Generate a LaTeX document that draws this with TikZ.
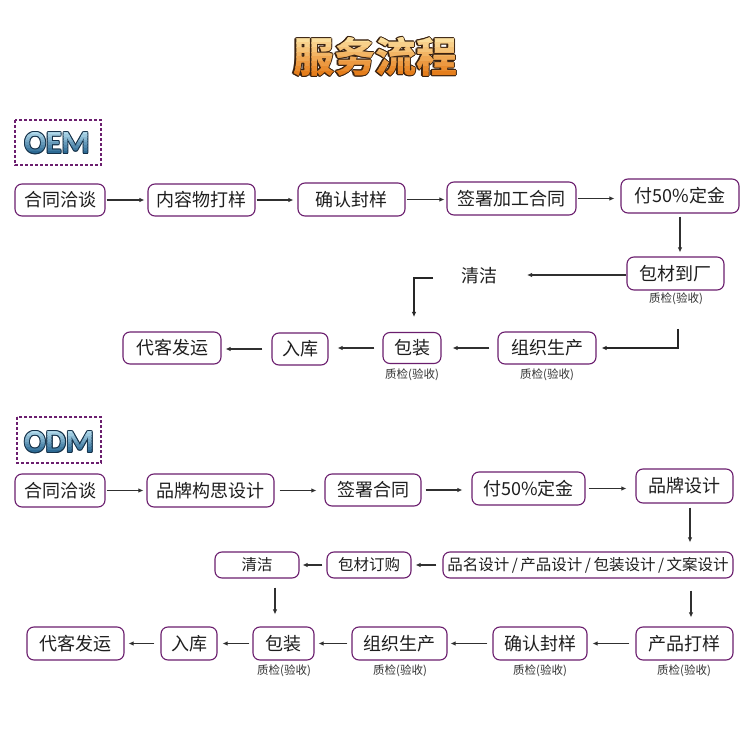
\documentclass[tikz,border=0pt]{standalone}
\usepackage{fontspec}
\setmainfont{Noto Sans CJK SC}
\newfontfamily\latinb{Carlito}
\usetikzlibrary{arrows.meta}
\definecolor{boxc}{HTML}{6B1E6E}
\definecolor{arrc}{HTML}{303030}
\definecolor{txt}{HTML}{1E1E1E}
\definecolor{txt2}{HTML}{333333}
\definecolor{ttop}{HTML}{FFEDB0}
\definecolor{tbot}{HTML}{E2700A}
\definecolor{tout}{HTML}{3A2210}
\definecolor{btop}{HTML}{C4EAF8}
\definecolor{bbot}{HTML}{1A5A88}
\definecolor{bout}{HTML}{15324A}
% #1 x, #2 y, #3 font, #4 text, #5 outline, #6 top, #7 bottom, #8 half height, #9 outline offset
\newcommand\gradlabel[9]{%
  \foreach \dx/\dy in {1/0,-1/0,0/1,0/-1,0.7/0.7,-0.7/0.7,0.7/-0.7,-0.7/-0.7}{%
    \node[inner sep=0pt, font=#3, text=#5, xshift=\dx*#9 pt, yshift=\dy*#9 pt] at (#1,#2) {#4};}
  \foreach \i in {0,...,9}{%
    \pgfmathtruncatemacro\pp{100-100*\i/9}%
    \begin{scope}
      \clip (#1-200, #2-#8+\i*#8/5) rectangle (#1+200, #2-#8+\i*#8/5+#8/5+0.5);
      \node[inner sep=0pt, font=#3, text=#6!\pp!#7] at (#1,#2) {#4};
    \end{scope}}
}
\begin{document}
\begin{tikzpicture}[x=1pt,y=-1pt,
  bx/.style={draw=boxc, line width=1.1pt, rounded corners=7pt, inner sep=0pt, fill=white,
    font=\fontsize{18}{20}\selectfont, text=txt},
  sbx/.style={bx, font=\fontsize{15.5}{18}\selectfont},
  qc/.style={font=\fontsize{11.5}{13}\selectfont, text=txt2, inner sep=0pt},
  arr/.style={draw=arrc, line width=1.1pt, -{Latex[length=5pt,width=4.5pt]}},
  thk/.style={draw=black!85, line width=2pt, -{Latex[length=5pt,width=4.5pt]}},
  dsh/.style={draw=boxc, line width=1.1pt, dash pattern=on 3pt off 2pt},
]
\fill[white] (0,0) rectangle (750,735);
\useasboundingbox (0,0) rectangle (750,735);

% title
\gradlabel{375}{57}{\fontsize{41}{44}\selectfont\bfseries}{服务流程}{tout}{ttop}{tbot}{24}{1.4}

% ===== OEM =====
\draw[dsh] (15,120) rectangle (101,165);
\gradlabel{57}{143}{\latinb\fontsize{32}{34}\selectfont\bfseries}{OEM}{bout}{btop}{bbot}{14}{1.1}

\node[bx, minimum width=90pt, minimum height=32pt] (a1) at (60,200) {合同洽谈};
\node[bx, minimum width=107pt, minimum height=32pt] (a2) at (201.5,200) {内容物打样};
\node[bx, minimum width=107pt, minimum height=33pt] (a3) at (351.5,199.5) {确认封样};
\node[bx, minimum width=129pt, minimum height=33pt] (a4) at (511.5,198.5) {签署加工合同};
\node[bx, minimum width=118pt, minimum height=34pt] (a5) at (680,196) {付50\%定金};
\node[bx, minimum width=97pt, minimum height=33pt] (a6) at (675.5,273.5) {包材到厂};
\node[inner sep=0pt, font=\fontsize{18}{20}\selectfont, text=txt] (q1) at (479,276) {清洁};
\node[bx, minimum width=98pt, minimum height=32pt] (a7) at (547,348) {组织生产};
\node[bx, minimum width=58pt, minimum height=31pt] (a8) at (412,348) {包装};
\node[bx, minimum width=56pt, minimum height=32pt] (a9) at (300,349) {入库};
\node[bx, minimum width=98pt, minimum height=32pt] (a10) at (172,348) {代客发运};

\node[qc] (qa6) at (676,299) {质检(验收)};
\node[qc] (qa7) at (547,375) {质检(验收)};
\node[qc] (qa8) at (412,375) {质检(验收)};

\draw[arr, shorten <=1pt, shorten >=3pt] (a1.east) -- (a1.east -| a2.west);
\draw[arr, shorten <=1pt, shorten >=4pt] (a2.east) -- (a2.east -| a3.west);
\draw[arr, shorten <=1pt, shorten >=2pt] (a3.east) -- (a3.east -| a4.west);
\draw[arr, shorten <=1pt, shorten >=6pt] (a4.east) -- (a4.east -| a5.west);
\draw[arr, shorten <=3pt, shorten >=4pt] (a5.south) -- (a5.south |- a6.north);
\coordinate (q1e) at (527,275);
\draw[arr] (a6.west |- q1e) -- (q1e);
\coordinate (k1) at (433,278);
\coordinate (k2) at (414,317);
\draw[thk] (k1) -| (k2);
\coordinate (m1) at (678,329);
\draw[thk, shorten >=5pt] (m1) |- (a7.east);
\draw[arr, shorten <=8pt, shorten >=11pt] (a7.west) -- (a7.west -| a8.east);
\draw[arr, shorten <=8pt, shorten >=9pt] (a8.west) -- (a8.west -| a9.east);
\draw[arr, shorten <=9pt, shorten >=4pt] (a9.west) -- (a9.west -| a10.east);

% ===== ODM =====
\draw[dsh] (17,417) rectangle (101,463);
\gradlabel{59}{442}{\latinb\fontsize{32}{34}\selectfont\bfseries}{ODM}{bout}{btop}{bbot}{14}{1.1}

\node[bx, minimum width=90pt, minimum height=33pt] (b1) at (60,490.5) {合同洽谈};
\node[bx, minimum width=127pt, minimum height=33pt] (b2) at (210.5,490.5) {品牌构思设计};
\node[bx, minimum width=96pt, minimum height=32pt] (b3) at (373,490) {签署合同};
\node[bx, minimum width=113pt, minimum height=33pt] (b4) at (528.5,488.5) {付50\%定金};
\node[bx, minimum width=97pt, minimum height=34pt] (b5) at (684.5,486) {品牌设计};
\node[sbx, minimum width=290pt, minimum height=26pt] (b6) at (588,565)
  {品名设计\hspace{2.5pt}/\hspace{2.5pt}产品设计\hspace{2.5pt}/\hspace{2.5pt}包装设计\hspace{2.5pt}/\hspace{2.5pt}文案设计};
\node[sbx, minimum width=84pt, minimum height=26pt] (b7) at (369,565) {包材订购};
\node[sbx, minimum width=84pt, minimum height=26pt] (b8) at (257,565) {清洁};
\node[bx, minimum width=97pt, minimum height=33pt] (b9) at (684.5,643.5) {产品打样};
\node[bx, minimum width=94pt, minimum height=33pt] (b10) at (540,643.5) {确认封样};
\node[bx, minimum width=95pt, minimum height=33pt] (b11) at (399.5,643.5) {组织生产};
\node[bx, minimum width=61pt, minimum height=33pt] (b12) at (283.5,643.5) {包装};
\node[bx, minimum width=56pt, minimum height=33pt] (b13) at (189,643.5) {入库};
\node[bx, minimum width=97pt, minimum height=33pt] (b14) at (75.5,643.5) {代客发运};

\node[qc] (qb9) at (684,671) {质检(验收)};
\node[qc] (qb10) at (540,671) {质检(验收)};
\node[qc] (qb11) at (400,671) {质检(验收)};
\node[qc] (qb12) at (284,671) {质检(验收)};

\draw[arr, shorten <=1pt, shorten >=3pt] (b1.east) -- (b1.east -| b2.west);
\draw[arr, shorten <=5pt, shorten >=8pt] (b2.east) -- (b2.east -| b3.west);
\draw[arr, shorten <=4pt, shorten >=9pt] (b3.east) -- (b3.east -| b4.west);
\draw[arr, shorten <=3pt, shorten >=9pt] (b4.east) -- (b4.east -| b5.west);
\draw[arr, shorten <=4pt, shorten >=9pt] ([xshift=5.5pt]b5.south) -- ([xshift=5.5pt]b5.south |- b6.north);
\draw[arr, shorten <=6pt, shorten >=4pt] (b6.west) -- (b6.west -| b7.east);
\draw[arr, shorten <=4pt, shorten >=3pt] (b7.west) -- (b7.west -| b8.east);
\draw[arr, shorten <=12pt, shorten >=9pt] ([xshift=6.5pt]b9.north |- b6.south) -- ([xshift=6.5pt]b9.north);
\draw[arr, shorten <=9pt, shorten >=12pt] ([xshift=18pt]b8.south) -- ([xshift=18pt]b8.south |- b12.north);
\draw[arr, shorten <=6pt, shorten >=5pt] (b9.west) -- (b9.west -| b10.east);
\draw[arr, shorten <=5pt, shorten >=3pt] (b10.west) -- (b10.west -| b11.east);
\draw[arr, shorten <=4pt, shorten >=4pt] (b11.west) -- (b11.west -| b12.east);
\draw[arr, shorten <=3pt, shorten >=5pt] (b12.west) -- (b12.west -| b13.east);
\draw[arr, shorten <=6pt, shorten >=4pt] (b13.west) -- (b13.west -| b14.east);
\end{tikzpicture}
\end{document}
